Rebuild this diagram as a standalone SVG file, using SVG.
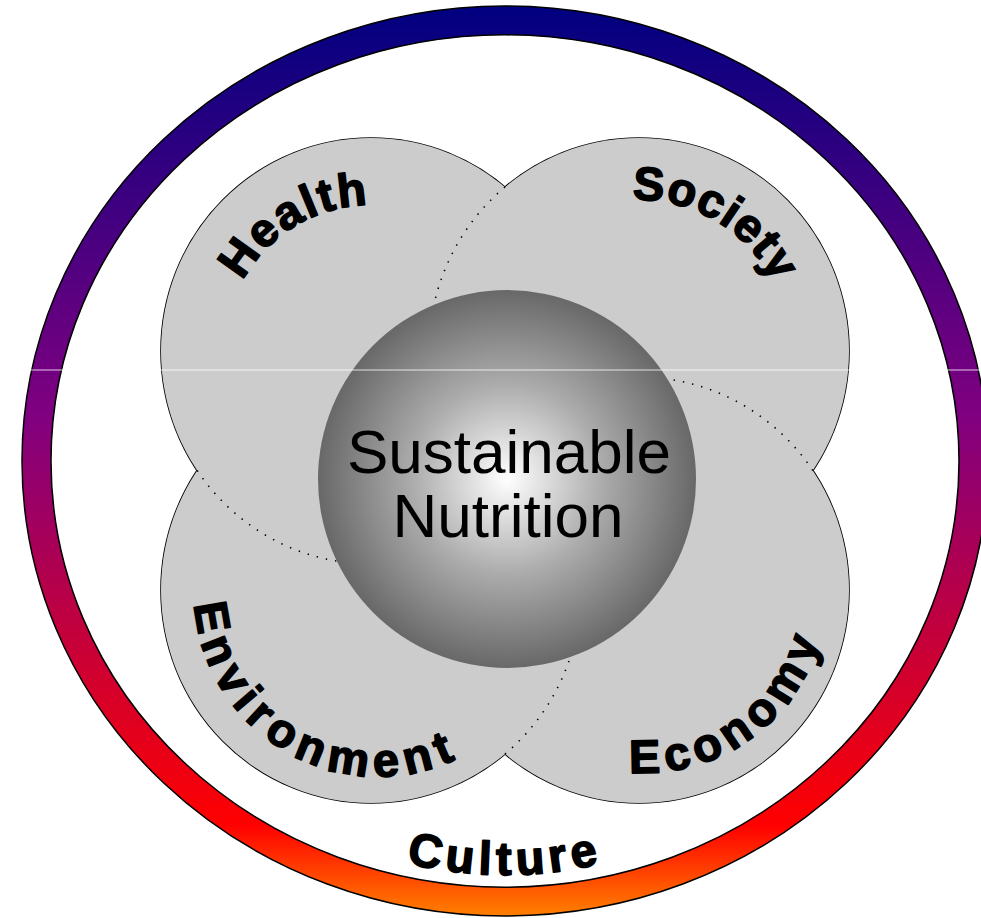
<svg xmlns="http://www.w3.org/2000/svg" width="981" height="918" viewBox="0 0 981 918">
<defs>
<linearGradient id="ringGrad" gradientUnits="userSpaceOnUse" x1="0" y1="6" x2="0" y2="916">
<stop offset="0" stop-color="#000080"/>
<stop offset="0.45" stop-color="#800080"/>
<stop offset="0.9" stop-color="#ff0000"/>
<stop offset="1" stop-color="#ff8000"/>
</linearGradient>
<radialGradient id="sphereGrad" cx="0.5" cy="0.5" r="0.5">
<stop offset="0" stop-color="#ffffff"/>
<stop offset="0.5" stop-color="#acacac"/>
<stop offset="1" stop-color="#686868"/>
</radialGradient>
<path id="pHealth" d="M 227.7 378.9 A 146 146 0 0 1 462.9 237.5"/>
<path id="pSociety" d="M 542.9 234.5 A 151 151 0 0 1 787.5 378.5"/>
<path id="pEnv" d="M 204.7 530.1 A 184.5 184.5 0 0 0 520.7 709.6"/>
<path id="pEcon" d="M 530.4 732.1 A 181 181 0 0 0 814.3 528"/>
<path id="pCulture" d="M 298 819.5 A 414 414 0 0 0 712 819.5"/>
</defs>
<style>
.outline{fill:#cccccc;stroke:#000;stroke-width:1.6}
.petal{fill:#cccccc;stroke:none}
.lbl{font-family:"Liberation Sans",Arial,sans-serif;font-weight:bold;font-size:47px;fill:#000;stroke:#000;stroke-width:1.6;stroke-linejoin:round}
.dots{fill:none;stroke:#000;stroke-width:1.6;stroke-dasharray:1.4 8}
.center{font-family:"Liberation Sans",Arial,sans-serif;font-size:62px;fill:#000;text-anchor:middle}
</style>
<rect width="981" height="918" fill="#ffffff"/>
<g id="culture">
<path d="M 22 461 A 483 455 0 1 0 988 461 A 483 455 0 1 0 22 461 Z M 51 461 A 454 426 0 1 0 959 461 A 454 426 0 1 0 51 461 Z" fill="url(#ringGrad)" fill-rule="evenodd" stroke="#000" stroke-width="1.5"/>
<text class="lbl" letter-spacing="5"><textPath href="#pCulture" startOffset="50%" text-anchor="middle">Culture</textPath></text>
</g>
<g id="petal-outlines">
<ellipse class="outline" cx="371" cy="351" rx="210" ry="213"/>
<ellipse class="outline" cx="639" cy="351" rx="210" ry="213"/>
<ellipse class="outline" cx="371" cy="590" rx="210" ry="213"/>
<ellipse class="outline" cx="639" cy="590" rx="210" ry="213"/>
</g>
<g id="health">
<ellipse class="petal" cx="371" cy="351" rx="210" ry="213"/>
<text class="lbl" letter-spacing="1.9"><textPath href="#pHealth" startOffset="50%" text-anchor="middle">Health</textPath></text>
</g>
<g id="society">
<ellipse class="petal" cx="639" cy="351" rx="210" ry="213"/>
<text class="lbl" letter-spacing="1"><textPath href="#pSociety" startOffset="50%" text-anchor="middle">Society</textPath></text>
</g>
<g id="environment">
<ellipse class="petal" cx="371" cy="590" rx="210" ry="213"/>
<text class="lbl" letter-spacing="7"><textPath href="#pEnv" startOffset="50%" text-anchor="middle">Environment</textPath></text>
</g>
<g id="economy">
<ellipse class="petal" cx="639" cy="590" rx="210" ry="213"/>
<text class="lbl" letter-spacing="6.5"><textPath href="#pEcon" startOffset="50%" text-anchor="middle">Economy</textPath></text>
</g>
<g id="connectors">
<path class="dots" d="M 505 187 A 210 213 0 0 0 434 304.5"/>
<path class="dots" d="M 812.8 470.5 A 210 213 0 0 0 667.5 379"/>
<path class="dots" d="M 505 754 A 210 213 0 0 0 570.2 657.3"/>
<path class="dots" d="M 197.2 470.5 A 210 213 0 0 0 336.7 561.1"/>
</g>
<g id="sustainable-nutrition">
<circle cx="507" cy="479" r="189" fill="url(#sphereGrad)"/>
<text class="center" x="509" y="473">Sustainable</text>
<text class="center" x="508" y="537">Nutrition</text>
</g>
<line x1="31" y1="370" x2="981" y2="370" stroke="#ffffff" stroke-width="1" opacity="0.8"/>
</svg>
